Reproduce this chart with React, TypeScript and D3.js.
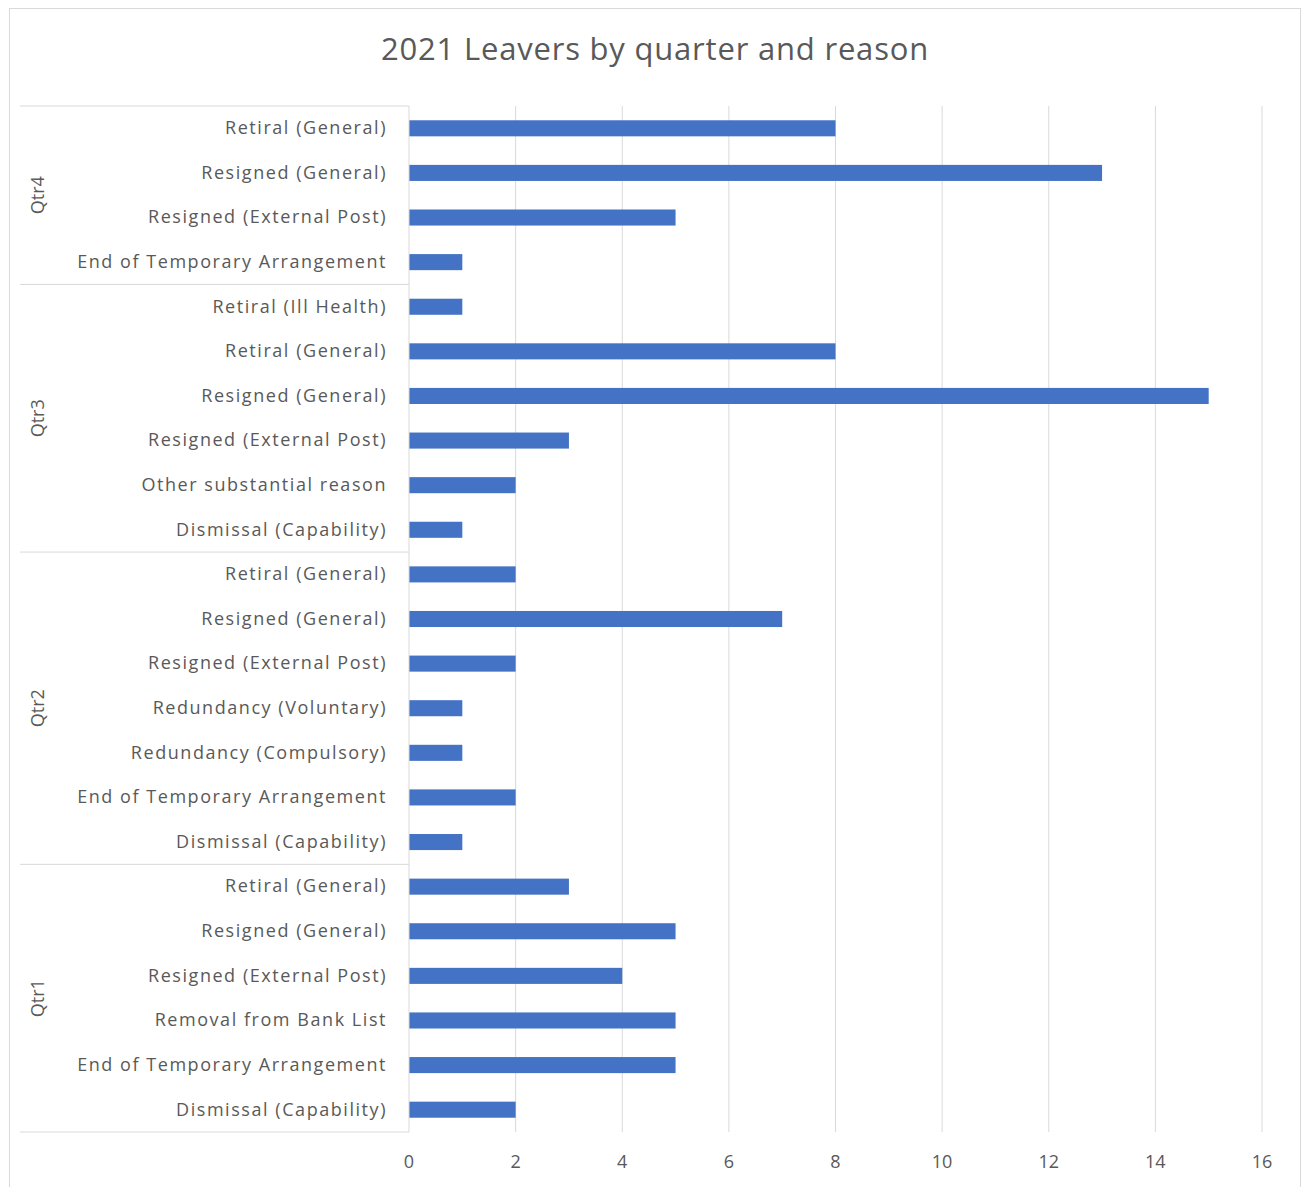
import React from "react";
import * as d3 from "d3";

const quarters = ["Qtr4", "Qtr3", "Qtr2", "Qtr1"];
const qtr4Reasons = ["Retiral (General)", "Resigned (General)", "Resigned (External Post)", "End of Temporary Arrangement"];
const qtr4Values = [8, 13, 5, 1];
const qtr3Reasons = ["Retiral (Ill Health)", "Retiral (General)", "Resigned (General)", "Resigned (External Post)", "Other substantial reason", "Dismissal (Capability)"];
const qtr3Values = [1, 8, 15, 3, 2, 1];
const qtr2Reasons = ["Retiral (General)", "Resigned (General)", "Resigned (External Post)", "Redundancy (Voluntary)", "Redundancy (Compulsory)", "End of Temporary Arrangement", "Dismissal (Capability)"];
const qtr2Values = [2, 7, 2, 1, 1, 2, 1];
const qtr1Reasons = ["Retiral (General)", "Resigned (General)", "Resigned (External Post)", "Removal from Bank List", "End of Temporary Arrangement", "Dismissal (Capability)"];
const qtr1Values = [3, 5, 4, 5, 5, 2];
const xTicks = [0, 2, 4, 6, 8, 10, 12, 14, 16];
const title = "2021 Leavers by quarter and reason";

const groups = [
  { name: quarters[0], reasons: qtr4Reasons, values: qtr4Values },
  { name: quarters[1], reasons: qtr3Reasons, values: qtr3Values },
  { name: quarters[2], reasons: qtr2Reasons, values: qtr2Values },
  { name: quarters[3], reasons: qtr1Reasons, values: qtr1Values },
];

type Row = { key: string; group: string; reason: string; value: number };
const rows: Row[] = [];
groups.forEach((g) =>
  g.reasons.forEach((r, i) => rows.push({ key: g.name + "|" + r, group: g.name, reason: r, value: g.values[i] }))
);

const W = 1302;
const H = 1187;
const plotLeft = 409;
const plotRight = 1262;
const plotTop = 106;
const plotBottom = 1132;
const FONT = "'Open Sans', 'Noto Sans', sans-serif";
const TEXT = "#595959";
const GRID = "#d9d9d9";
const BAR = "#4472C4";

export default function App() {
  const x = d3.scaleLinear().domain([0, 16]).range([plotLeft, plotRight]);
  const y = d3
    .scaleBand<string>()
    .domain(rows.map((r) => r.key))
    .range([plotTop, plotBottom])
    .paddingInner(0.64)
    .paddingOuter(0.32);
  const step = y.step();

  let idx = 0;
  const groupSpans = groups.map((g) => {
    const start = plotTop + idx * step;
    idx += g.reasons.length;
    const end = plotTop + idx * step;
    return { name: g.name, start, end };
  });

  return (
    <div style={{ position: "absolute", left: 0, top: 0 }}>
      <svg width={W} height={H} style={{ display: "block", background: "#fff" }}>
        <rect x={9.5} y={8.5} width={1291} height={1190} fill="#fff" stroke="#d9d9d9" strokeWidth={1} />
        <text
          x={655}
          y={52}
          textAnchor="middle"
          dominantBaseline="middle"
          fontFamily={FONT}
          fontSize={31}
          letterSpacing={0.8}
          fill={TEXT}
        >
          {title}
        </text>

        {xTicks.filter((t) => t > 0).map((t) => (
          <line key={t} x1={x(t)} x2={x(t)} y1={plotTop} y2={plotBottom} stroke={GRID} strokeWidth={1} />
        ))}

        {rows.map((r) => (
          <rect key={r.key} x={x(0)} y={y(r.key)} width={x(r.value) - x(0)} height={y.bandwidth()} fill={BAR} />
        ))}

        <line x1={plotLeft} x2={plotLeft} y1={plotTop} y2={plotBottom} stroke={GRID} strokeWidth={1} />

        {groupSpans.map((g, i) => (
          <line key={"sep" + i} x1={20} x2={plotLeft} y1={g.start} y2={g.start} stroke={GRID} strokeWidth={1} />
        ))}
        <line x1={20} x2={plotLeft} y1={plotBottom} y2={plotBottom} stroke={GRID} strokeWidth={1} />

        {rows.map((r) => (
          <text
            key={"l" + r.key}
            x={387}
            y={(y(r.key) as number) + y.bandwidth() / 2 + 1}
            textAnchor="end"
            dominantBaseline="middle"
            fontFamily={FONT}
            fontSize={18}
            letterSpacing={1.55}
            fill={TEXT}
          >
            {r.reason}
          </text>
        ))}

        {groupSpans.map((g) => (
          <text
            key={"g" + g.name}
            transform={`translate(39,${(g.start + g.end) / 2}) rotate(-90)`}
            textAnchor="middle"
            dominantBaseline="middle"
            fontFamily={FONT}
            fontSize={18}
            fill={TEXT}
          >
            {g.name}
          </text>
        ))}

        {xTicks.map((t) => (
          <text
            key={"t" + t}
            x={x(t)}
            y={1163}
            textAnchor="middle"
            dominantBaseline="middle"
            fontFamily={FONT}
            fontSize={18}
            fill={TEXT}
          >
            {t}
          </text>
        ))}
      </svg>
    </div>
  );
}
